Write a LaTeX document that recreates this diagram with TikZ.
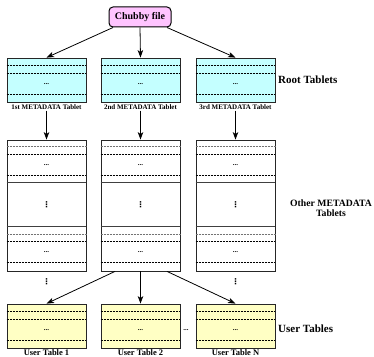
\documentclass[tikz,border=0pt]{standalone}
\usepackage{fontspec}
\setmainfont{Liberation Serif}
\newfontfamily\dvfont{DejaVu Sans}
\usetikzlibrary{calc,arrows.meta}
\definecolor{rootc}{RGB}{196,255,255}
\definecolor{userc}{RGB}{255,255,196}
\definecolor{chubc}{RGB}{255,196,255}
\begin{document}
\begin{tikzpicture}[x=1pt,y=1pt,
  tbl/.style={draw=black!85, line width=0.8pt, minimum width=79pt, inner sep=0pt},
  rootbox/.style={tbl, fill=rootc, minimum height=44pt},
  userbox/.style={tbl, fill=userc, minimum height=44pt},
  otherbox/.style={tbl, fill=white, minimum height=131pt},
  dl/.style={line width=0.6pt, dash pattern=on 2pt off 1pt},
  gdl/.style={line width=0.7pt, black!55, dash pattern=on 1pt off 0.5pt},
  sl/.style={line width=0.8pt, black!75},
  dotsn/.style={font=\fontsize{7}{7}\selectfont\bfseries, inner sep=0pt},
  vd/.style={font=\dvfont\fontsize{8}{8}\selectfont\bfseries, inner sep=0pt},
  arr/.style={line width=0.8pt, -{Stealth[length=7.5pt,width=5.5pt,inset=2pt]}},
  tlab/.style={font=\fontsize{7}{7}\selectfont\bfseries, inner sep=0pt},
  ulab/.style={font=\fontsize{8.5}{8.5}\selectfont\bfseries, inner sep=0pt},
  biglab/.style={font=\fontsize{11}{11}\selectfont\bfseries, inner sep=0pt, anchor=west},
  chub/.style={draw=black, line width=1pt, fill=chubc, rounded corners=4pt, minimum width=62pt, minimum height=20pt, font=\fontsize{10}{10}\selectfont\bfseries, inner sep=0pt}
]
\useasboundingbox (0,0) rectangle (374,356);

\node[chub] (c) at (140,339) {Chubby file};

\node[rootbox] (r1) at (46.5,276) {};
\node[rootbox] (r2) at (140.5,276) {};
\node[rootbox] (r3) at (235.5,276) {};
\node[tlab] (rl1) at (46.5,249) {1st METADATA Tablet};
\node[tlab] (rl2) at (140.5,249) {2nd METADATA Tablet};
\node[tlab] (rl3) at (235.5,249) {3rd METADATA Tablet};

\node[otherbox] (o1) at (46.5,150.5) {};
\node[otherbox] (o2) at (140.5,150.5) {};
\node[otherbox] (o3) at (235.5,150.5) {};

\node[userbox] (u1) at (46.5,30) {};
\node[userbox] (u2) at (140.5,30) {};
\node[userbox] (u3) at (235.5,30) {};
\node[ulab] (ul1) at (46.5,3.5) {User Table 1};
\node[ulab] (ul2) at (140.5,3.5) {User Table 2};
\node[ulab] (ul3) at (235.5,3.5) {User Table N};

\foreach \n in {r1,r2,r3,u1,u2,u3}{
  \draw[dl] ($(\n.north west)+(0,-8pt)$) -- ($(\n.north east)+(0,-8pt)$);
  \draw[dl] ($(\n.north west)+(0,-16pt)$) -- ($(\n.north east)+(0,-16pt)$);
  \draw[dl] ($(\n.north west)+(0,-37pt)$) -- ($(\n.north east)+(0,-37pt)$);
  \node[dotsn] at ($(\n.north)+(0,-26pt)$) {...};
}
\foreach \n in {o1,o2,o3}{
  \draw[gdl] ($(\n.north west)+(0,-7pt)$) -- ($(\n.north east)+(0,-7pt)$);
  \draw[dl] ($(\n.north west)+(0,-15pt)$) -- ($(\n.north east)+(0,-15pt)$);
  \node[dotsn] at ($(\n.north)+(0,-25pt)$) {...};
  \draw[dl] ($(\n.north west)+(0,-36pt)$) -- ($(\n.north east)+(0,-36pt)$);
  \draw[sl] ($(\n.north west)+(0,-43pt)$) -- ($(\n.north east)+(0,-43pt)$);
  \node[vd] at ($(\n.north)+(0,-65pt)$) {⋮};
  \draw[sl] ($(\n.north west)+(0,-87pt)$) -- ($(\n.north east)+(0,-87pt)$);
  \draw[gdl] ($(\n.north west)+(0,-95pt)$) -- ($(\n.north east)+(0,-95pt)$);
  \draw[dl] ($(\n.north west)+(0,-102pt)$) -- ($(\n.north east)+(0,-102pt)$);
  \node[dotsn] at ($(\n.north)+(0,-112pt)$) {...};
  \draw[dl] ($(\n.north west)+(0,-123pt)$) -- ($(\n.north east)+(0,-123pt)$);
}

\node[vd] (vd1) at (46.5,74) {⋮};
\node[vd] (vd3) at (235.5,74) {⋮};
\node[dotsn] (hd) at (186,26) {...};

\node[biglab] (lr) at (278,276) {Root Tablets};
\node[font=\fontsize{9.7}{10.5}\selectfont\bfseries, inner sep=0pt, align=center] (lo) at (331,148) {Other METADATA\\Tablets};
\node[biglab] (lu) at (278,27) {User Tables};

\draw[arr] ($(c.south)+(-27pt,0)$) -- (r1.north);
\draw[arr] (c.south) -- (r2.north);
\draw[arr] ($(c.south)+(27pt,0)$) -- (r3.north);

\draw[arr] (rl1.south) ++(0,-1pt) -- (o1.north);
\draw[arr] (rl2.south) ++(0,-1pt) -- (o2.north);
\draw[arr] (rl3.south) ++(0,-1pt) -- (o3.north);

\draw[arr] ($(o2.south)+(-25.5pt,0)$) -- (u1.north);
\draw[arr] (o2.south) -- (u2.north);
\draw[arr] ($(o2.south)+(26.5pt,0)$) -- (u3.north);
\end{tikzpicture}
\end{document}
